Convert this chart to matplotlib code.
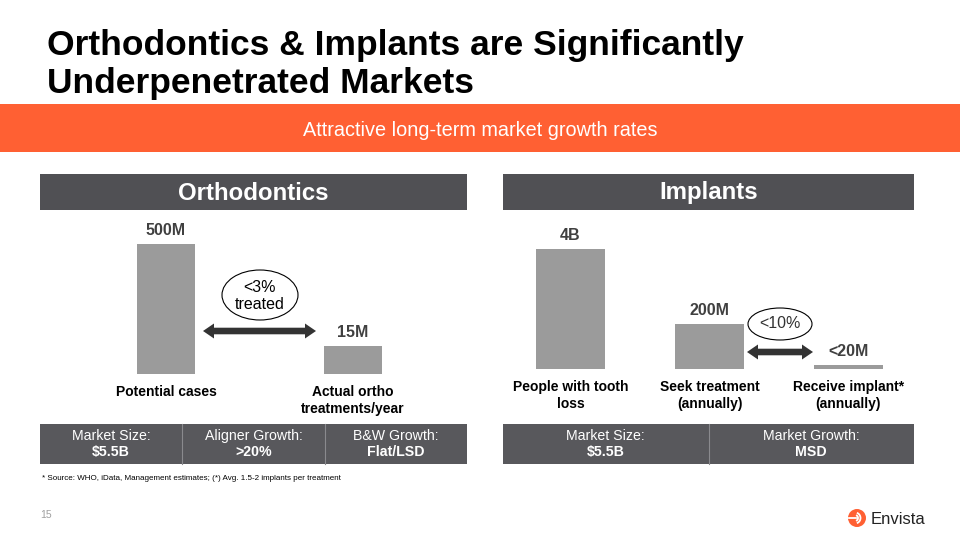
import numpy as np
import matplotlib
matplotlib.use('Agg')
import matplotlib.pyplot as plt
from matplotlib.patches import Rectangle, Ellipse, Circle, Arc, Polygon

plt.rcParams['font.family'] = ['Liberation Sans', 'DejaVu Sans']

# Slide data
title_lines = ['Orthodontics & Implants are Significantly', 'Underpenetrated Markets']
subtitle = 'Attractive long-term market growth rates'

ortho_categories = ['Potential cases', 'Actual ortho\ntreatments/year']
ortho_labels = ['500M', '15M']
ortho_heights = [100, 21.5]          # drawn (illustrative) bar heights

implant_categories = ['People with tooth\nloss', 'Seek treatment\n(annually)', 'Receive implant*\n(annually)']
implant_labels = ['4B', '200M', '<20M']
implant_heights = [100, 37.5, 3.3]   # drawn (illustrative) bar heights

ortho_stats = [('Market Size:', '$5.5B'), ('Aligner Growth:', '>20%'), ('B&W Growth:', 'Flat/LSD')]
implant_stats = [('Market Size:', '$5.5B'), ('Market Growth:', 'MSD')]

footnote = '* Source: WHO, iData, Management estimates; (*) Avg. 1.5-2 implants per treatment'

ORANGE = '#FF6033'
HEADER = '#505054'
STATBOX = '#58585C'
BAR = '#9B9B9B'

W, H = 960, 540
fig = plt.figure(figsize=(9.6, 5.4), dpi=100)
fig.patch.set_facecolor('white')

# background axes in pixel coordinates (y down)
bg = fig.add_axes([0, 0, 1, 1])
bg.set_xlim(0, W)
bg.set_ylim(H, 0)
bg.axis('off')

for y, line in zip([46, 83], title_lines):
    bg.text(47, y, line, fontsize=25.5, fontweight='bold', color='black',
            va='center', ha='left')

bg.add_patch(Rectangle((0, 104), W, 48, color=ORANGE, lw=0))
bg.text(480, 130, subtitle, fontsize=14.3, color='white', ha='center', va='center')

# section headers
for x0, x1, name in [(40, 467, 'Orthodontics'), (503, 914, 'Implants')]:
    bg.add_patch(Rectangle((x0, 174), x1 - x0, 36, color=HEADER, lw=0))
    bg.text((x0 + x1) / 2, 193, name, fontsize=17.3, fontweight='bold',
            color='white', ha='center', va='center')

# stat boxes
def stat_row(x0, x1, stats):
    bg.add_patch(Rectangle((x0, 424), x1 - x0, 40, color=STATBOX, lw=0))
    n = len(stats)
    cw = (x1 - x0) / n
    for i, (lab, val) in enumerate(stats):
        cx = x0 + cw * (i + 0.5)
        bg.text(cx, 436, lab, fontsize=10.2, color='white', ha='center', va='center')
        bg.text(cx, 452, val, fontsize=10.2, fontweight='bold', color='white', ha='center', va='center')
        if i > 0:
            bg.plot([x0 + cw * i] * 2, [424, 464], color='#8A8A8E', lw=0.8)

stat_row(40, 467, ortho_stats)
stat_row(503, 914, implant_stats)

bg.text(42, 479, footnote, fontsize=5.8, color='black', ha='left', va='center')
bg.text(40, 515, '15', fontsize=7.5, color='#A0A0A0', ha='left', va='center')

# logo
bg.add_patch(Circle((857, 518), 9, color=ORANGE, lw=0))
for r in [3, 5.5]:
    bg.add_patch(Arc((855, 518), 2 * r, 2 * r, theta1=-70, theta2=70, color='white', lw=1.3))
bg.plot([849, 856], [518, 518], color='white', lw=1.3)
bg.text(871, 519, 'Envista', fontsize=12, color='#222222', ha='left', va='center')


def bar_axes(centers_px, baseline_px, top_px, heights, top_height_px, labels, cats, width_px):
    spacing = centers_px[1] - centers_px[0]
    lo, hi = -0.35, len(centers_px) - 1 + 0.35
    left_px = centers_px[0] + lo * spacing
    right_px = centers_px[0] + hi * spacing
    ax = fig.add_axes([left_px / W, (H - baseline_px) / H,
                       (right_px - left_px) / W, (baseline_px - top_px) / H])
    x = np.arange(len(heights))
    bars = ax.bar(x, heights, width=width_px / spacing, color=BAR, lw=0)
    ax.set_xlim(lo, hi)
    ax.set_ylim(0, 100 * (baseline_px - top_px) / top_height_px)
    ax.bar_label(bars, labels=labels, padding=4, fontsize=11.5, fontweight='bold', color='#404040')
    ax.set_xticks(x)
    ax.set_xticklabels(cats, fontsize=10, fontweight='bold', color='black', linespacing=1.3)
    ax.tick_params(axis='x', length=0, pad=8)
    ax.set_yticks([])
    for s in ax.spines.values():
        s.set_visible(False)
    ax.patch.set_alpha(0)
    return ax


bar_axes([166, 353], 374, 215, ortho_heights, 130, ortho_labels, ortho_categories, 58)
bar_axes([570.5, 709.5, 848.5], 369, 215, implant_heights, 120, implant_labels, implant_categories, 69)

# arrows and callouts
def dbl_arrow(x0, x1, y, sw=3.3, hw=7.5, hl=11):
    pts = [(x0, y), (x0 + hl, y - hw), (x0 + hl, y - sw), (x1 - hl, y - sw),
           (x1 - hl, y - hw), (x1, y), (x1 - hl, y + hw), (x1 - hl, y + sw),
           (x0 + hl, y + sw), (x0 + hl, y + hw)]
    bg.add_patch(Polygon(pts, closed=True, color='#333333', lw=0))

dbl_arrow(203, 316, 331)
bg.add_patch(Ellipse((260, 295), 76, 50, facecolor='white', edgecolor='black', lw=0.8))
bg.text(260, 296, '<3%\ntreated', fontsize=11.5, ha='center', va='center', linespacing=1.15)

dbl_arrow(747, 813, 352)
bg.add_patch(Ellipse((780, 324), 64, 32, facecolor='white', edgecolor='black', lw=0.8))
bg.text(780, 324, '<10%', fontsize=11.5, ha='center', va='center', color='#333333')

fig.savefig('out.png', dpi=100)
